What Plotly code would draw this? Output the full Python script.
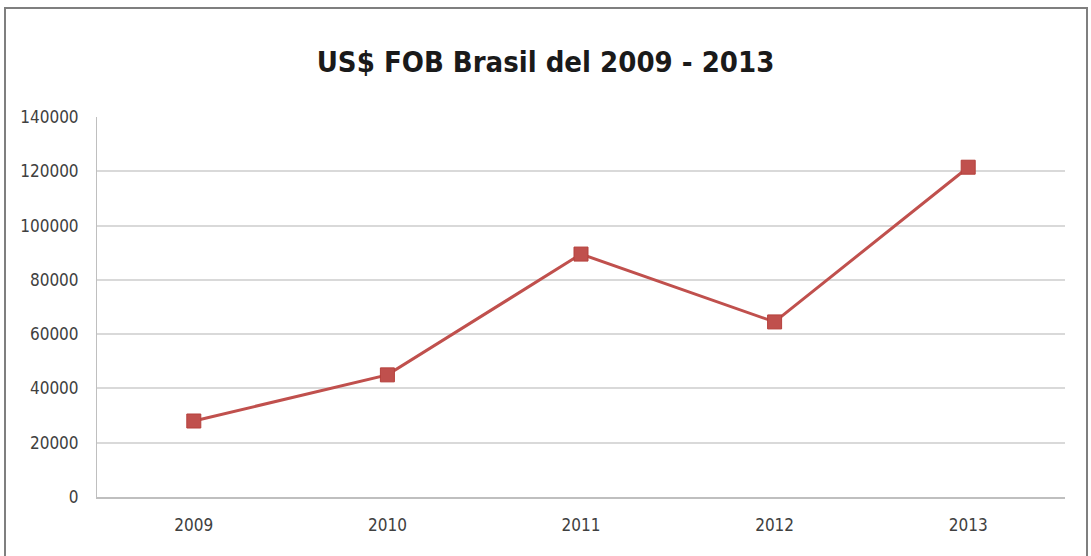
import plotly.graph_objects as go

# US$ FOB values by year
years = ["2009", "2010", "2011", "2012", "2013"]
fob_usd = [28000, 45000, 89500, 64500, 121500]
y_ticks = [0, 20000, 40000, 60000, 80000, 100000, 120000, 140000]

W, H = 1091, 556
ML, MR, MT, MB = 97, 26, 117, 59
PW, PH = W - ML - MR, H - MT - MB

NARROW = "Liberation Sans Narrow, DejaVu Sans Condensed, sans-serif"


def px_x(px):
    return (px - ML) / PW


def px_y(py):
    return (H - MB - py) / PH


fig = go.Figure()
fig.add_trace(go.Scatter(
    x=years, y=fob_usd, mode="lines+markers",
    line=dict(color="#C0504D", width=3),
    marker=dict(symbol="square", size=14, color="#C0504D",
                line=dict(color="#B5403C", width=1)),
    showlegend=False,
))

fig.update_layout(
    width=W, height=H,
    margin=dict(l=ML, r=MR, t=MT, b=MB),
    paper_bgcolor="white", plot_bgcolor="white",
    title=dict(text="<b>US$ FOB Brasil del 2009 - 2013</b>",
               x=0.5, xanchor="center", y=1 - 62 / H, yanchor="middle",
               font=dict(family=NARROW, size=29, color="#1a1a1a")),
    font=dict(family=NARROW, size=17, color="#404040"),
    xaxis=dict(type="category", range=[-0.5, 4.5], showgrid=False,
               showline=True, linecolor="#BFBFBF", linewidth=2, ticks="",
               ticklabelstandoff=12,
               tickfont=dict(family=NARROW, size=17, color="#404040")),
    yaxis=dict(range=[0, 140000], tickvals=y_ticks,
               ticktext=[str(v) for v in y_ticks],
               showgrid=True, gridcolor="#D9D9D9", gridwidth=2,
               showline=True, linecolor="#BFBFBF", linewidth=1,
               zeroline=False, ticks="", ticklabelstandoff=14,
               tickfont=dict(family=NARROW, size=17, color="#404040")),
    shapes=[dict(type="rect", xref="paper", yref="paper",
                 x0=px_x(5), x1=px_x(1087), y0=px_y(560), y1=px_y(8),
                 line=dict(color="#7F7F7F", width=2), layer="below")],
)

fig.write_html("out.html")
